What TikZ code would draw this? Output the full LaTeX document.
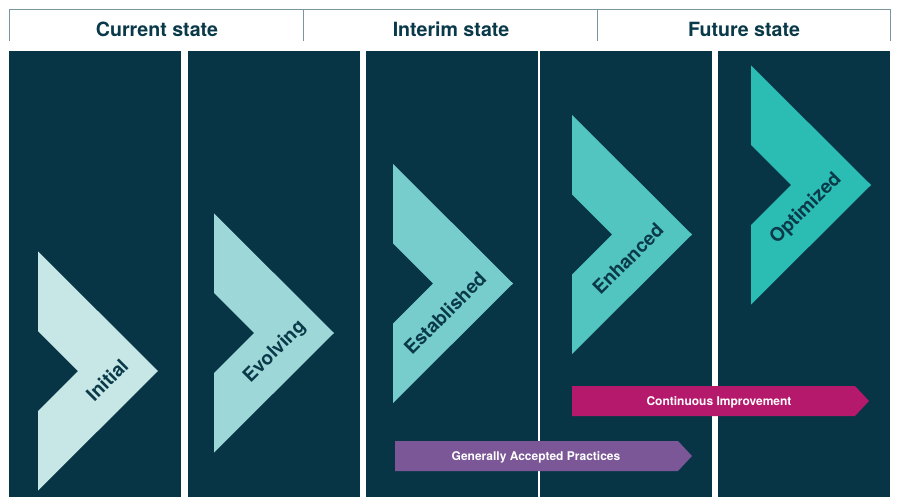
\documentclass[tikz,border=0pt]{standalone}
\usepackage{fontspec}
\setmainfont{TeX Gyre Heros}
\usepackage{tikz}
\definecolor{panel}{HTML}{073546}
\definecolor{ink}{HTML}{0A3A4A}
\definecolor{rule}{HTML}{7895A0}
\definecolor{lvlone}{HTML}{C6E7E6}
\definecolor{lvltwo}{HTML}{9DD7D7}
\definecolor{lvlthree}{HTML}{77CDCB}
\definecolor{lvlfour}{HTML}{53C5C0}
\definecolor{lvlfive}{HTML}{2BBDB4}
\definecolor{improve}{HTML}{B5196C}
\definecolor{practice}{HTML}{7B5797}

\begin{document}
\begin{tikzpicture}[x=1pt, y=-1pt,
        column/.style={fill=panel},
        headline/.style={draw=rule, line width=1pt},
        header/.style={font=\bfseries\fontsize{19.6}{22}\selectfont, text=ink, anchor=center},
        steplabel/.style={font=\bfseries\fontsize{19}{22}\selectfont, text=ink, rotate=45, inner sep=0pt, anchor=center},
        banner/.style={font=\bfseries\fontsize{12}{14}\selectfont, text=white, inner sep=0pt, anchor=center}]
        \useasboundingbox[fill=white] (0,0) rectangle (897,497);

        \draw[headline] (9,41) -- (9,10) -- (890,10) -- (890,41);
        \draw[headline] (303,10) -- (303,41);
        \draw[headline] (597,10) -- (597,41);

        \node[header] (current) at (157,29) {Current state};
        \node[header] (interim) at (451,29) {Interim state};
        \node[header] (future) at (744,29) {Future state};

        \fill[column] (9,51) rectangle (181,497);
        \fill[column] (188,51) rectangle (360,497);
        \fill[column] (366,51) rectangle (538.3,497);
        \fill[column] (540,51) rectangle (711.7,497);
        \fill[column] (718,51) rectangle (890,497);

        \fill[lvlone] (38,251.5) -- ++(120,119.5) -- ++(-120,119.5) -- ++(0,-79.5) -- ++(40,-40) -- ++(-40,-40) -- cycle;
        \fill[lvltwo] (214,213.5) -- ++(120,119.5) -- ++(-120,119.5) -- ++(0,-79.5) -- ++(40,-40) -- ++(-40,-40) -- cycle;
        \fill[lvlthree] (393,164) -- ++(120,119.5) -- ++(-120,119.5) -- ++(0,-79.5) -- ++(40,-40) -- ++(-40,-40) -- cycle;
        \fill[lvlfour] (572,115) -- ++(120,119.5) -- ++(-120,119.5) -- ++(0,-79.5) -- ++(40,-40) -- ++(-40,-40) -- cycle;
        \fill[lvlfive] (751,65.5) -- ++(120,119.5) -- ++(-120,119.5) -- ++(0,-79.5) -- ++(40,-40) -- ++(-40,-40) -- cycle;

        \node[steplabel] (initial) at (107,380) {Initial};
        \node[steplabel] (evolving) at (275,352) {Evolving};
        \node[steplabel] (established) at (445,313) {Established};
        \node[steplabel] (enhanced) at (628,259) {Enhanced};
        \node[steplabel] (optimized) at (806,209) {Optimized};

        \fill[improve] (572,386) -- (855,386) -- (869,401) -- (855,416) -- (572,416) -- cycle;
        \fill[practice] (395,441) -- (678,441) -- (692,456) -- (678,471) -- (395,471) -- cycle;

        \node[banner] (improvement) at (719,402) {Continuous Improvement};
        \node[banner] (practices) at (536,457) {Generally Accepted Practices};

    \end{tikzpicture}
\end{document}
